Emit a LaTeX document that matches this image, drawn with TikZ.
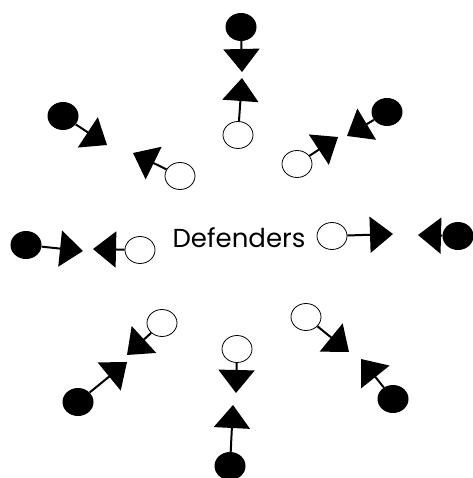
\documentclass[tikz,border=0pt]{standalone}
\usepackage{fontspec}
\newfontfamily\labelfont{Poppins}
\usetikzlibrary{arrows.meta,shapes.geometric}

\begin{document}
\begin{tikzpicture}[x=1pt,y=-1pt,
  attacker/.style={ellipse, fill=black, minimum width=31pt, minimum height=28pt, inner sep=0pt},
  defender/.style={ellipse, draw=black, line width=0.8pt, fill=white, minimum width=30pt, minimum height=27pt, inner sep=0pt},
  push/.style={line width=2pt, -{Triangle[length=23pt,width=36pt]}}]
  \useasboundingbox (0,0) rectangle (472,478);

  \node[font=\labelfont\fontsize{26}{30}\selectfont] (center) at (239,238) {Defenders};

  \node[attacker] (attN) at (241,27) {};
  \coordinate (attNtip) at (242,72);
  \draw[push] (attN) -- (attNtip);
  \node[defender] (defN) at (238,135) {};
  \coordinate (defNtip) at (242,78);
  \draw[push] (defN) -- (defNtip);

  \node[attacker] (attNE) at (387,112) {};
  \coordinate (attNEtip) at (347,136);
  \draw[push] (attNE) -- (attNEtip);
  \node[defender] (defNE) at (297,164) {};
  \coordinate (defNEtip) at (338,137);
  \draw[push] (defNE) -- (defNEtip);

  \node[attacker] (attE) at (458,236) {};
  \coordinate (attEtip) at (418,235);
  \draw[push] (attE) -- (attEtip);
  \node[defender] (defE) at (332,236) {};
  \coordinate (defEtip) at (393,234);
  \draw[push] (defE) -- (defEtip);

  \node[attacker] (attSE) at (393,399) {};
  \coordinate (attSEtip) at (361,359);
  \draw[push] (attSE) -- (attSEtip);
  \node[defender] (defSE) at (306,317) {};
  \coordinate (defSEtip) at (349,352);
  \draw[push] (defSE) -- (defSEtip);

  \node[attacker] (attS) at (230,466) {};
  \coordinate (attStip) at (233,405);
  \draw[push] (attS) -- (attStip);
  \node[defender] (defS) at (237,349) {};
  \coordinate (defStip) at (236,393);
  \draw[push] (defS) -- (defStip);

  \node[attacker] (attSW) at (78,402) {};
  \coordinate (attSWtip) at (127,362);
  \draw[push] (attSW) -- (attSWtip);
  \node[defender] (defSW) at (162,323) {};
  \coordinate (defSWtip) at (127,355);
  \draw[push] (defSW) -- (defSWtip);

  \node[attacker] (attW) at (26,245) {};
  \coordinate (attWtip) at (83,251);
  \draw[push] (attW) -- (attWtip);
  \node[defender] (defW) at (140,250) {};
  \coordinate (defWtip) at (93,249);
  \draw[push] (defW) -- (defWtip);

  \node[attacker] (attNW) at (63,116) {};
  \coordinate (attNWtip) at (107,145);
  \draw[push] (attNW) -- (attNWtip);
  \node[defender] (defNW) at (180,176) {};
  \coordinate (defNWtip) at (133,153);
  \draw[push] (defNW) -- (defNWtip);
\end{tikzpicture}
\end{document}
